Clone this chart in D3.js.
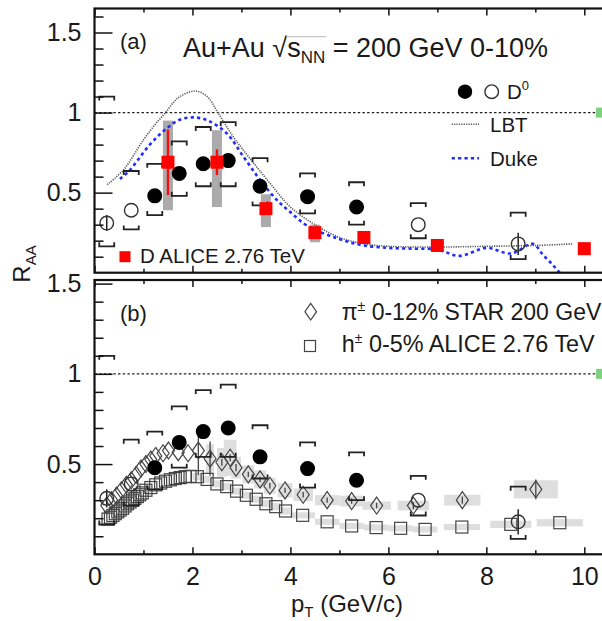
<!DOCTYPE html>
<html><head><meta charset="utf-8">
<script src="https://cdn.jsdelivr.net/npm/d3@7"></script>
<style>
body{margin:0;background:#fff}
text{font-family:"Liberation Sans",Arial,Helvetica,sans-serif;fill:#1a1a1a}
</style>
</head><body>
<svg id="c" width="602" height="621"></svg>
<script>
// ---------------- data ----------------
// STAR D0 (0-10%)
const d0Pt   = [0.25, 0.75, 1.23, 1.73, 2.22, 2.73, 3.38, 4.35, 5.35, 6.61, 8.65];
const d0Val  = [0.31, 0.39, 0.48, 0.62, 0.68, 0.70, 0.54, 0.475, 0.41, 0.30, 0.18];
const d0Stat = [0.05, 0.0, 0.02, 0.02, 0.02, 0.02, 0.02, 0.02, 0.02, 0.0, 0.07];
const d0SysHi= [1.10, 0.635, 0.68, 0.82, 0.91, 0.94, 0.715, 0.62, 0.565, 0.435, 0.375];
const d0SysLo= [0.165, 0.27, 0.36, 0.48, 0.54, 0.54, 0.42, 0.37, 0.30, 0.215, 0.085];
const d0Open = [1, 1, 0, 0, 0, 0, 0, 0, 0, 1, 1];
// ALICE D 2.76 TeV
const alPt   = [1.5, 2.5, 3.5, 4.5, 5.5, 7.0, 10.0];
const alVal  = [0.69, 0.69, 0.40, 0.25, 0.22, 0.17, 0.15];
const alStat = [0.205, 0.08, 0.02, 0.015, 0.015, 0.015, 0.015];
const alSysHi= [0.95, 0.89, 0.49, 0.30, 0.26, 0.19, 0.17];
const alSysLo= [0.39, 0.41, 0.285, 0.19, 0.18, 0.15, 0.13];
// LBT model
const lbtPt  = [0.26, 0.6, 1.0, 1.25, 1.45, 1.7, 2.05, 2.3, 2.52, 2.83, 3.17, 3.58, 4.0, 4.5, 5.0, 5.5, 6.0, 7.0, 8.0, 9.0, 9.75];
const lbtVal = [0.55, 0.645, 0.83, 0.93, 1.0, 1.09, 1.135, 1.10, 1.0, 0.85, 0.715, 0.56, 0.41, 0.30, 0.22, 0.18, 0.165, 0.16, 0.165, 0.17, 0.18];
// Duke model
const dukePt = [0.52, 0.72, 1.13, 1.47, 1.74, 2.02, 2.32, 2.7, 3.04, 3.38, 3.72, 3.99, 4.36, 5.0, 5.5, 6.0, 6.5, 7.0, 7.45, 8.0, 8.5, 8.95, 9.16, 9.36, 9.55];
const dukeVal= [0.585, 0.64, 0.80, 0.90, 0.955, 0.97, 0.95, 0.87, 0.725, 0.58, 0.455, 0.38, 0.29, 0.21, 0.17, 0.155, 0.15, 0.145, 0.105, 0.155, 0.12, 0.18, 0.11, 0.048, -0.02];
// STAR pi+- 0-12%
const piPt   = [0.25,0.35,0.45,0.55,0.65,0.75,0.85,0.95,1.05,1.15,1.25,1.4,1.51,1.71,1.91,2.12,2.36,2.6,2.77,2.89,3.14,3.38,3.58,3.89,4.26,4.75,5.25,5.76,6.51,7.51,9.01];
const piVal  = [0.27,0.30,0.325,0.355,0.385,0.41,0.44,0.475,0.50,0.525,0.545,0.56,0.575,0.566,0.56,0.575,0.53,0.51,0.535,0.48,0.443,0.415,0.38,0.354,0.33,0.30,0.295,0.27,0.27,0.30,0.36];
const piStat = [0,0,0,0,0,0,0,0,0,0,0,0,0,0,0,0.135,0.095,0.02,0.02,0.02,0.015,0.015,0.015,0.015,0.015,0.015,0.015,0.015,0.02,0.02,0.055];
const piSys  = [0,0,0,0,0,0,0,0,0,0,0,0,0,0,0,0,0.08,0.08,0.10,0.06,0.05,0.05,0.045,0.04,0.035,0.028,0.03,0.023,0.027,0.03,0.05];
const piBinW = [0,0,0,0,0,0,0,0,0,0,0,0,0,0,0,0,0.08,0.1,0.13,0.1,0.12,0.12,0.12,0.15,0.2,0.25,0.25,0.29,0.32,0.37,0.45];
// ALICE h+- 0-5%
const hPt    = [0.275,0.325,0.375,0.425,0.475,0.525,0.575,0.625,0.675,0.725,0.775,0.825,0.875,0.925,0.975,1.05,1.15,1.25,1.35,1.45,1.55,1.65,1.75,1.85,1.95,2.1,2.3,2.5,2.7,2.9,3.1,3.3,3.5,3.7,3.9,4.25,4.75,5.25,5.75,6.25,6.75,7.5,8.5,9.5];
const hVal   = [0.195,0.205,0.215,0.225,0.235,0.245,0.255,0.268,0.28,0.29,0.30,0.31,0.32,0.33,0.34,0.355,0.37,0.385,0.395,0.405,0.413,0.42,0.425,0.43,0.432,0.43,0.415,0.39,0.375,0.35,0.327,0.305,0.28,0.264,0.24,0.216,0.18,0.157,0.148,0.144,0.138,0.151,0.166,0.175];
const hSys   = [0,0,0,0,0,0,0,0,0,0,0,0,0,0,0,0,0,0,0,0,0,0,0,0,0,0.02,0.02,0.02,0.02,0.02,0.02,0.02,0.02,0.02,0.02,0.017,0.017,0.017,0.017,0.017,0.017,0.017,0.02,0.02];
const hBinW  = [0,0,0,0,0,0,0,0,0,0,0,0,0,0,0,0,0,0,0,0,0,0,0,0,0,0.1,0.1,0.1,0.1,0.1,0.1,0.1,0.1,0.1,0.1,0.25,0.25,0.25,0.25,0.25,0.25,0.37,0.42,0.47];
// axis ticks
const yMajor = [0.5, 1, 1.5];
const xMajor = [0, 2, 4, 6, 8, 10];
const xMinor = [1, 3, 5, 7, 9];
const normPt = 10.3;   // normalisation uncertainty box position

// ---------------- layout ----------------
const W = 602, H = 621;
const svg = d3.select('#c');
const x  = d3.scaleLinear().domain([0, 10.4]).range([94.5, 94.5 + 10.4 * 48.98]);
const yA = d3.scaleLinear().domain([0, 1.65]).range([272.7, 8.5]);
const yB = d3.scaleLinear().domain([0, 1.52]).range([554.3, 280]);

const d0   = d0Pt.map((p,i)=>({p, v:d0Val[i], s:d0Stat[i], hi:d0SysHi[i], lo:d0SysLo[i], open:d0Open[i]}));
const al   = alPt.map((p,i)=>({p, v:alVal[i], s:alStat[i], hi:alSysHi[i], lo:alSysLo[i]}));
const lbt  = lbtPt.map((p,i)=>({p, v:lbtVal[i]}));
const duke = dukePt.map((p,i)=>({p, v:dukeVal[i]}));
const pi   = piPt.map((p,i)=>({p, v:piVal[i], s:piStat[i], sys:piSys[i], w:piBinW[i]}));
const hh   = hPt.map((p,i)=>({p, v:hVal[i], sys:hSys[i], w:hBinW[i]}));

function clip(id, y) {
  const [b, t] = y.range();
  svg.append('clipPath').attr('id', id).append('rect')
    .attr('x', x(0)).attr('y', t).attr('width', W).attr('height', b - t);
}
clip('clipA', yA); clip('clipB', yB);

function unitLine(g, y) {
  g.append('line').attr('x1', x(0)).attr('x2', W).attr('y1', y(1)).attr('y2', y(1))
    .attr('stroke', '#222').attr('stroke-width', 1.4).attr('stroke-dasharray', '2.5,2.2');
  g.append('rect').attr('x', x(normPt) - 3).attr('y', y(1) - 5).attr('width', 7).attr('height', 10)
    .attr('fill', '#7fd07f');
}

function drawD0(g, y) {
  const br = 7.5, tk = 4;
  const gg = g.append('g').attr('stroke', '#222').attr('stroke-width', 1.8).attr('fill', 'none');
  gg.selectAll('path.top').data(d0).join('path')
    .attr('d', d => `M${x(d.p)-br},${y(d.hi)+tk}V${y(d.hi)}H${x(d.p)+br}V${y(d.hi)+tk}`);
  gg.selectAll('path.bot').data(d0).join('path').attr('class','bot')
    .attr('d', d => `M${x(d.p)-br},${y(d.lo)-tk}V${y(d.lo)}H${x(d.p)+br}V${y(d.lo)-tk}`);
  g.selectAll('line.d0s').data(d0.filter(d => d.s > 0)).join('line').attr('class','d0s')
    .attr('x1', d => x(d.p)).attr('x2', d => x(d.p))
    .attr('y1', d => y(d.v + d.s)).attr('y2', d => y(d.v - d.s))
    .attr('stroke', '#222').attr('stroke-width', 1.5);
  g.selectAll('circle.d0').data(d0).join('circle').attr('class','d0')
    .attr('cx', d => x(d.p)).attr('cy', d => y(d.v)).attr('r', 6.8)
    .attr('fill', d => d.open ? 'none' : '#000')
    .attr('stroke', d => d.open ? '#333' : '#000').attr('stroke-width', 1.4);
}

function axes(y) {
  const [bottom, top] = y.range();
  const g = svg.append('g');
  const ymax = y.domain()[1];
  const minor = d3.range(1, Math.floor(ymax * 10 + 1e-6) + 1).map(d => d / 10)
    .filter(v => !yMajor.some(m => Math.abs(m - v) < 1e-6));
  const noDom = s => s.select('.domain').remove();
  g.append('g').attr('transform', `translate(${x(0)},0)`)
    .call(d3.axisRight(y).tickValues(minor).tickSize(9).tickFormat('')).call(noDom);
  g.append('g').attr('transform', `translate(${x(0)},0)`)
    .call(d3.axisRight(y).tickValues(yMajor).tickSize(18).tickFormat('')).call(noDom);
  g.append('g').attr('transform', `translate(${x(0)},0)`)
    .call(d3.axisLeft(y).tickValues(yMajor).tickSize(0).tickPadding(13).tickFormat(d => String(d)))
    .call(noDom).attr('font-size', 25).attr('font-family', null);
  g.append('g').attr('transform', `translate(0,${bottom})`)
    .call(d3.axisTop(x).tickValues(xMajor).tickSize(7).tickFormat('')).call(noDom);
  g.append('g').attr('transform', `translate(0,${bottom})`)
    .call(d3.axisTop(x).tickValues(xMinor).tickSize(4).tickFormat('')).call(noDom);
  g.append('g').attr('transform', `translate(0,${top})`)
    .call(d3.axisBottom(x).tickValues(xMajor).tickSize(7).tickFormat('')).call(noDom);
  g.append('g').attr('transform', `translate(0,${top})`)
    .call(d3.axisBottom(x).tickValues(xMinor).tickSize(4).tickFormat('')).call(noDom);
  g.selectAll('line').attr('stroke', '#111').attr('stroke-width', 1.5);
  g.selectAll('text').attr('fill', '#1a1a1a');
  svg.append('rect').attr('x', x(0)).attr('y', top).attr('width', W).attr('height', bottom - top)
    .attr('fill', 'none').attr('stroke', '#111').attr('stroke-width', 2.2);
}

// ---------------- panel (a) ----------------
const gA = svg.append('g').attr('clip-path', 'url(#clipA)');
gA.selectAll('rect.alsys').data(al).join('rect').attr('class','alsys')
  .attr('x', d => x(d.p) - 5).attr('width', 10)
  .attr('y', d => yA(d.hi)).attr('height', d => yA(d.lo) - yA(d.hi)).attr('fill', '#ababab');
unitLine(gA, yA);
gA.append('path').datum(lbt)
  .attr('d', d3.line().x(d => x(d.p)).y(d => yA(d.v)).curve(d3.curveCatmullRom))
  .attr('fill', 'none').attr('stroke', '#555').attr('stroke-width', 1.6).attr('stroke-dasharray', '1.2,1.2');
gA.append('path').datum(duke)
  .attr('d', d3.line().x(d => x(d.p)).y(d => yA(d.v)).curve(d3.curveCatmullRom))
  .attr('fill', 'none').attr('stroke', '#1f2bff').attr('stroke-width', 2.6).attr('stroke-dasharray', '3.2,3.2');
drawD0(gA, yA);
gA.selectAll('line.als').data(al).join('line').attr('class','als')
  .attr('x1', d => x(d.p)).attr('x2', d => x(d.p))
  .attr('y1', d => yA(d.v + d.s)).attr('y2', d => yA(d.v - d.s))
  .attr('stroke', '#ee1111').attr('stroke-width', 2.4);
gA.selectAll('rect.al').data(al).join('rect').attr('class','al')
  .attr('x', d => x(d.p) - 6.5).attr('y', d => yA(d.v) - 6.5).attr('width', 13).attr('height', 13)
  .attr('fill', '#ff0000');
axes(yA);

// panel (a) texts
svg.append('text').attr('x', 120).attr('y', 48.5).attr('font-size', 22).text('(a)');
const title = svg.append('text').attr('x', 183).attr('y', 56.7).attr('font-size', 27);
title.append('tspan').text('Au+Au ');
title.append('tspan').text('\u221A');
title.append('tspan').text('s');
title.append('tspan').attr('font-size', 17).attr('dy', 6).text('NN');
title.append('tspan').attr('dy', -6).text(' = 200 GeV 0-10%');
(function(){
  const n = title.node();
  const r = n.getExtentOfChar(6), e = n.getExtentOfChar(9);
  svg.append('line').attr('x1', r.x + r.width - 1).attr('x2', e.x + e.width + 1)
    .attr('y1', r.y + 4).attr('y2', r.y + 4).attr('stroke', '#bbb').attr('stroke-width', 1);
})();
// legend (a)
svg.append('circle').attr('cx', 465).attr('cy', 91.7).attr('r', 7.2).attr('fill', '#000');
svg.append('circle').attr('cx', 491.7).attr('cy', 91.7).attr('r', 6.8).attr('fill', 'none').attr('stroke', '#333').attr('stroke-width', 1.4);
const lD = svg.append('text').attr('x', 507).attr('y', 98.5).attr('font-size', 20.5);
lD.append('tspan').text('D');
lD.append('tspan').attr('font-size', 13).attr('dy', -9).text('0');
svg.append('line').attr('x1', 451.7).attr('x2', 479).attr('y1', 124.3).attr('y2', 124.3)
  .attr('stroke', '#555').attr('stroke-width', 1.6).attr('stroke-dasharray', '1.2,1.2');
svg.append('text').attr('x', 490).attr('y', 131.7).attr('font-size', 20.5).text('LBT');
svg.append('line').attr('x1', 451.7).attr('x2', 479).attr('y1', 158.3).attr('y2', 158.3)
  .attr('stroke', '#1f2bff').attr('stroke-width', 2.6).attr('stroke-dasharray', '3.2,3.2');
svg.append('text').attr('x', 490).attr('y', 165.7).attr('font-size', 20.5).text('Duke');
svg.append('rect').attr('x', 119.5).attr('y', 251.2).attr('width', 11).attr('height', 11).attr('fill', '#ff0000');
svg.append('text').attr('x', 140).attr('y', 263).attr('font-size', 20.5).text('D ALICE 2.76 TeV');

// ---------------- panel (b) ----------------
const gB = svg.append('g').attr('clip-path', 'url(#clipB)');
gB.selectAll('rect.hsys').data(hh.filter(d => d.w > 0)).join('rect').attr('class','hsys')
  .attr('x', d => x(d.p - d.w)).attr('width', d => x(d.p + d.w) - x(d.p - d.w))
  .attr('y', d => yB(d.v + d.sys)).attr('height', d => yB(d.v - d.sys) - yB(d.v + d.sys))
  .attr('fill', '#dedede');
gB.selectAll('rect.pisys').data(pi.filter(d => d.w > 0)).join('rect').attr('class','pisys')
  .attr('x', d => x(d.p - d.w)).attr('width', d => x(d.p + d.w) - x(d.p - d.w))
  .attr('y', d => yB(d.v + d.sys)).attr('height', d => yB(d.v - d.sys) - yB(d.v + d.sys))
  .attr('fill', '#dedede');
unitLine(gB, yB);
gB.selectAll('rect.h').data(hh).join('rect').attr('class','h')
  .attr('x', d => x(d.p) - 6).attr('y', d => yB(d.v) - 6).attr('width', 12).attr('height', 12)
  .attr('fill', 'none').attr('stroke', '#444').attr('stroke-width', 1.2);
gB.selectAll('line.pis').data(pi.filter(d => d.s > 0)).join('line').attr('class','pis')
  .attr('x1', d => x(d.p)).attr('x2', d => x(d.p))
  .attr('y1', d => yB(d.v + d.s)).attr('y2', d => yB(d.v - d.s))
  .attr('stroke', '#444').attr('stroke-width', 1.3);
const diamond = (cx, cy, w, h) => `M${cx},${cy-h}L${cx+w},${cy}L${cx},${cy+h}L${cx-w},${cy}Z`;
gB.selectAll('path.pi').data(pi).join('path').attr('class','pi')
  .attr('d', d => diamond(x(d.p), yB(d.v), 6, 8.5))
  .attr('fill', 'none').attr('stroke', '#444').attr('stroke-width', 1.2);
drawD0(gB, yB);
axes(yB);

// panel (b) texts
svg.append('text').attr('x', 120).attr('y', 320.5).attr('font-size', 22).text('(b)');
svg.append('path').attr('d', diamond(310.7, 311.7, 5.8, 8.3))
  .attr('fill', 'none').attr('stroke', '#444').attr('stroke-width', 1.2);
const lp = svg.append('text').attr('x', 341.7).attr('y', 320).attr('font-size', 23);
lp.append('tspan').text('\u03C0');
lp.append('tspan').attr('font-size', 14).attr('dy', -9).text('\u00B1');
lp.append('tspan').attr('dy', 9).text(' 0-12% STAR 200 GeV');
svg.append('rect').attr('x', 304.5).attr('y', 340.5).attr('width', 11).attr('height', 11)
  .attr('fill', 'none').attr('stroke', '#444').attr('stroke-width', 1.2);
const lh = svg.append('text').attr('x', 341.7).attr('y', 352).attr('font-size', 23.4);
lh.append('tspan').text('h');
lh.append('tspan').attr('font-size', 14).attr('dy', -9).text('\u00B1');
lh.append('tspan').attr('dy', 9).text(' 0-5% ALICE 2.76 TeV');

// x tick labels (bottom)
svg.append('g').attr('transform', `translate(0,${yB.range()[0]})`)
  .call(d3.axisBottom(x).tickValues(xMajor).tickSize(0).tickPadding(12.5).tickFormat(d => String(d)))
  .call(s => s.select('.domain').remove())
  .attr('font-size', 25).attr('font-family', null);

// axis titles
const xt = svg.append('text').attr('x', 291).attr('y', 612).attr('font-size', 24);
xt.append('tspan').text('p');
xt.append('tspan').attr('font-size', 15).attr('dy', 5).text('T');
xt.append('tspan').attr('dy', -5).text(' (GeV/c)');
const yt = svg.append('text').attr('transform', 'translate(30,264) rotate(-90)')
  .attr('text-anchor', 'middle').attr('font-size', 24);
yt.append('tspan').text('R');
yt.append('tspan').attr('font-size', 15).attr('dy', 6).text('AA');
</script>
</body></html>
